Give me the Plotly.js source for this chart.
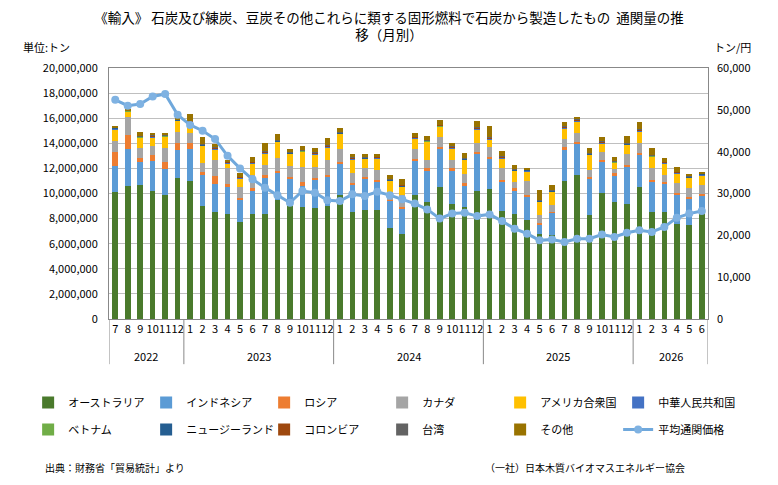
<!DOCTYPE html>
<html>
<head>
<meta charset="utf-8">
<script src="https://cdn.plot.ly/plotly-3.0.1.min.js"></script>
<style>
  html, body { margin: 0; padding: 0; background: #fff; }
  #chart { width: 778px; height: 485px; }
</style>
</head>
<body>
<div id="chart"></div>
<script>
// x axis: year row and month row
var years = [
  "2022","2022","2022","2022","2022","2022",
  "2023","2023","2023","2023","2023","2023","2023","2023","2023","2023","2023","2023",
  "2024","2024","2024","2024","2024","2024","2024","2024","2024","2024","2024","2024",
  "2025","2025","2025","2025","2025","2025","2025","2025","2025","2025","2025","2025",
  "2026","2026","2026","2026","2026","2026"
];
var months = [
  "7","8","9","10","11","12",
  "1","2","3","4","5","6","7","8","9","10","11","12",
  "1","2","3","4","5","6","7","8","9","10","11","12",
  "1","2","3","4","5","6","7","8","9","10","11","12",
  "1","2","3","4","5","6"
];

// import volume by country (tons)
var australia = [
  10130000,10610000,10670000,10190000,9870000,11200000,
  11010000,9010000,8530000,8400000,7730000,8400000,8350000,9470000,8990000,8930000,8880000,8990000,
  9870000,8530000,8720000,8720000,7280000,6800000,9870000,9330000,10480000,9150000,8930000,10210000,
  10320000,8610000,8350000,7920000,6800000,6670000,11010000,11470000,8270000,10050000,9330000,9200000,
  10530000,8530000,8530000,7600000,7500000,8610000
];
var indonesia = [
  2060000,2940000,1810000,2420000,2080000,2270000,
  2540000,2460000,2220000,2130000,1740000,1870000,2850000,2130000,2160000,1660000,2190000,2340000,
  2530000,2220000,2480000,2210000,2190000,2000000,2740000,2540000,3120000,2720000,1740000,2990000,
  2480000,2320000,1860000,1870000,670000,1780000,2460000,2530000,2930000,2480000,2140000,2930000,
  2540000,2400000,2270000,2270000,2100000,1260000
];
var russia = [
  1090000,1120000,370000,460000,580000,530000,
  500000,260000,640000,220000,210000,130000,270000,190000,180000,340000,160000,160000,
  130000,100000,130000,140000,50000,130000,110000,130000,130000,130000,130000,130000,
  100000,130000,190000,130000,180000,80000,210000,130000,130000,140000,130000,140000,
  130000,140000,130000,180000,130000,130000
];
var canada = [
  910000,1460000,750000,720000,1070000,930000,
  800000,670000,1280000,1300000,850000,1070000,800000,1010000,860000,1150000,900000,1180000,
  990000,750000,670000,800000,610000,940000,800000,670000,750000,670000,720000,720000,
  830000,940000,530000,1090000,620000,540000,640000,720000,540000,660000,320000,880000,
  800000,930000,540000,750000,720000,670000
];
var usa = [
  930000,400000,850000,690000,930000,860000,
  800000,1390000,850000,350000,670000,930000,930000,1330000,960000,1250000,990000,1010000,
  1230000,1120000,750000,930000,880000,660000,880000,1460000,850000,930000,1150000,1070000,
  590000,800000,880000,780000,1060000,1060000,880000,880000,1200000,670000,530000,720000,
  930000,930000,930000,800000,800000,800000
];
var china = [
  60000,40000,50000,60000,50000,50000,
  40000,50000,50000,50000,50000,50000,50000,40000,50000,50000,50000,50000,
  40000,50000,50000,40000,50000,50000,40000,50000,40000,50000,40000,40000,
  50000,50000,50000,50000,50000,50000,50000,80000,50000,50000,50000,50000,
  60000,50000,50000,50000,50000,50000
];
var vietnam = [
  10000,10000,10000,10000,10000,10000,
  10000,10000,10000,10000,10000,10000,10000,10000,10000,10000,10000,10000,
  10000,10000,10000,10000,10000,10000,10000,10000,10000,10000,10000,10000,
  10000,10000,10000,10000,10000,10000,10000,10000,10000,10000,10000,10000,
  10000,10000,10000,10000,10000,10000
];
var newzealand = [
  30000,30000,30000,30000,30000,30000,
  30000,30000,30000,30000,30000,30000,30000,30000,30000,30000,30000,30000,
  30000,30000,30000,30000,30000,30000,30000,30000,30000,30000,30000,30000,
  30000,30000,30000,30000,30000,30000,30000,30000,30000,30000,30000,30000,
  30000,30000,30000,30000,30000,30000
];
var colombia = [
  40000,10000,30000,30000,40000,30000,
  60000,40000,40000,40000,40000,40000,50000,50000,40000,40000,40000,60000,
  40000,40000,40000,40000,40000,60000,40000,40000,50000,40000,40000,40000,
  80000,40000,40000,0,40000,40000,40000,60000,40000,40000,40000,40000,
  90000,40000,40000,40000,40000,40000
];
var taiwan = [
  20000,20000,20000,20000,20000,20000,
  20000,20000,20000,20000,20000,20000,20000,20000,20000,20000,20000,20000,
  20000,20000,20000,20000,20000,20000,20000,20000,20000,20000,20000,20000,
  20000,20000,20000,20000,20000,20000,20000,20000,20000,20000,20000,20000,
  20000,20000,20000,20000,20000,20000
];
var others = [
  130000,30000,290000,200000,120000,70000,
  510000,590000,280000,120000,300000,380000,640000,490000,230000,320000,340000,550000,
  300000,280000,220000,200000,320000,450000,250000,310000,380000,250000,380000,520000,
  880000,460000,310000,70000,830000,390000,380000,170000,380000,380000,330000,570000,
  520000,560000,250000,380000,150000,110000
];

// average customs price (yen / ton)
var avgPrice = [
  52400,51000,51400,53200,53800,48800,
  46400,45000,43000,39000,36000,33400,31400,29600,27800,30600,30200,28400,
  28200,29800,29400,30400,29600,28600,27600,26200,24000,25200,25400,24600,
  25000,23400,21600,20400,18800,19000,18400,19200,19200,20200,19600,20600,
  21200,20800,22000,24200,25200,25800
];

var barNames = ["オーストラリア","インドネシア","ロシア","カナダ","アメリカ合衆国","中華人民共和国",
                "ベトナム","ニュージーランド","コロンビア","台湾","その他"];
var barValues = [australia, indonesia, russia, canada, usa, china,
                 vietnam, newzealand, colombia, taiwan, others];
var barColors = ["#4a7a2c","#5b9bd5","#ed7d31","#a5a5a5","#ffc000","#4472c4",
                 "#70ad47","#255e91","#9e480e","#636363","#997300"];

var jp = "Noto Sans CJK JP, sans-serif";

// unique category keys, shown as month numbers
var keys = years.map(function (y, i) { return y + "/" + months[i]; });

var data = [];
for (var i = 0; i < barNames.length; i++) {
  data.push({
    type: "bar",
    name: barNames[i],
    x: keys,
    y: barValues[i],
    marker: { color: barColors[i] },
    yaxis: "y",
    legend: i < 6 ? "legend" : "legend2"
  });
}
data.push({
  type: "scatter",
  mode: "lines+markers",
  name: "平均通関価格",
  x: keys,
  y: avgPrice,
  yaxis: "y2",
  legend: "legend2",
  line: { color: "#6fa8dc", width: 3 },
  marker: { color: "#7fb2e2", size: 8 }
});

// year labels and group dividers below the axis
var annotations = [];
var shapes = [];
var start = 0;
for (var j = 1; j <= years.length; j++) {
  if (j === years.length || years[j] !== years[start]) {
    annotations.push({
      text: years[start], xref: "x", yref: "paper",
      x: (start + j - 1) / 2, y: -0.148, xanchor: "center", yanchor: "middle",
      showarrow: false, font: { size: 11 }
    });
    shapes.push({
      type: "line", xref: "x", yref: "paper",
      x0: start - 0.5, x1: start - 0.5, y0: 0, y1: -0.18,
      line: { color: "#888", width: 1 }
    });
    start = j;
  }
}
shapes.push({
  type: "line", xref: "x", yref: "paper",
  x0: years.length - 0.5, x1: years.length - 0.5, y0: 0, y1: -0.18,
  line: { color: "#888", width: 1 }
});

annotations.push(
  { text: "単位:トン", xref: "paper", yref: "paper", x: -0.147, y: 1.084,
    xanchor: "left", yanchor: "middle", showarrow: false, font: { size: 11 } },
  { text: "トン/円", xref: "paper", yref: "paper", x: 1.006, y: 1.084,
    xanchor: "left", yanchor: "middle", showarrow: false, font: { size: 11 } },
  { text: "出典：財務省「貿易統計」より", xref: "paper", yref: "paper", x: -0.11, y: -0.59,
    xanchor: "left", yanchor: "middle", showarrow: false, font: { size: 10 } },
  { text: "（一社）日本木質バイオマスエネルギー協会", xref: "paper", yref: "paper", x: 0.625, y: -0.59,
    xanchor: "left", yanchor: "middle", showarrow: false, font: { size: 10 } }
);

var legendBase = {
  orientation: "h",
  x: -0.135, xanchor: "left",
  yanchor: "top",
  entrywidth: 73,
  entrywidthmode: "pixels",
  font: { family: jp, size: 11 },
  traceorder: "normal",
  itemclick: false,
  bgcolor: "rgba(0,0,0,0)"
};

var layout = {
  width: 778,
  height: 485,
  margin: { l: 109, r: 70, t: 68, b: 166 },
  paper_bgcolor: "#fff",
  plot_bgcolor: "#fff",
  font: { family: jp, size: 11, color: "#000" },
  barmode: "stack",
  bargap: 0.55,
  showlegend: true,
  title: {
    text: "《輸入》 石炭及び練炭、豆炭その他これらに類する固形燃料で石炭から製造したもの  通関量の推<br>移（月別）",
    font: { family: jp, size: 13.5, color: "#000" },
    x: 0.5, xanchor: "center",
    yref: "container", y: 0.953, yanchor: "middle"
  },
  xaxis: {
    type: "category",
    range: [-0.5, years.length - 0.5],
    tickmode: "array",
    tickvals: keys,
    ticktext: months,
    tickangle: 0,
    tickfont: { size: 11 },
    showline: true,
    linecolor: "#888",
    mirror: true,
    ticks: ""
  },
  yaxis: {
    range: [0, 20000000],
    dtick: 2000000,
    tickformat: ",d",
    showgrid: true,
    gridcolor: "#bfbfbf",
    showline: true,
    linecolor: "#888",
    mirror: true,
    zeroline: false,
    ticks: "",
    ticklabelstandoff: 8
  },
  yaxis2: {
    overlaying: "y",
    side: "right",
    range: [0, 60000],
    dtick: 10000,
    tickformat: ",d",
    showgrid: false,
    zeroline: false,
    ticks: "",
    ticklabelstandoff: 8
  },
  legend: Object.assign({}, legendBase, { y: -0.275 }),
  legend2: Object.assign({}, legendBase, { y: -0.382 }),
  annotations: annotations,
  shapes: shapes
};

Plotly.newPlot("chart", data, layout, { displayModeBar: false, responsive: false });
</script>
</body>
</html>
